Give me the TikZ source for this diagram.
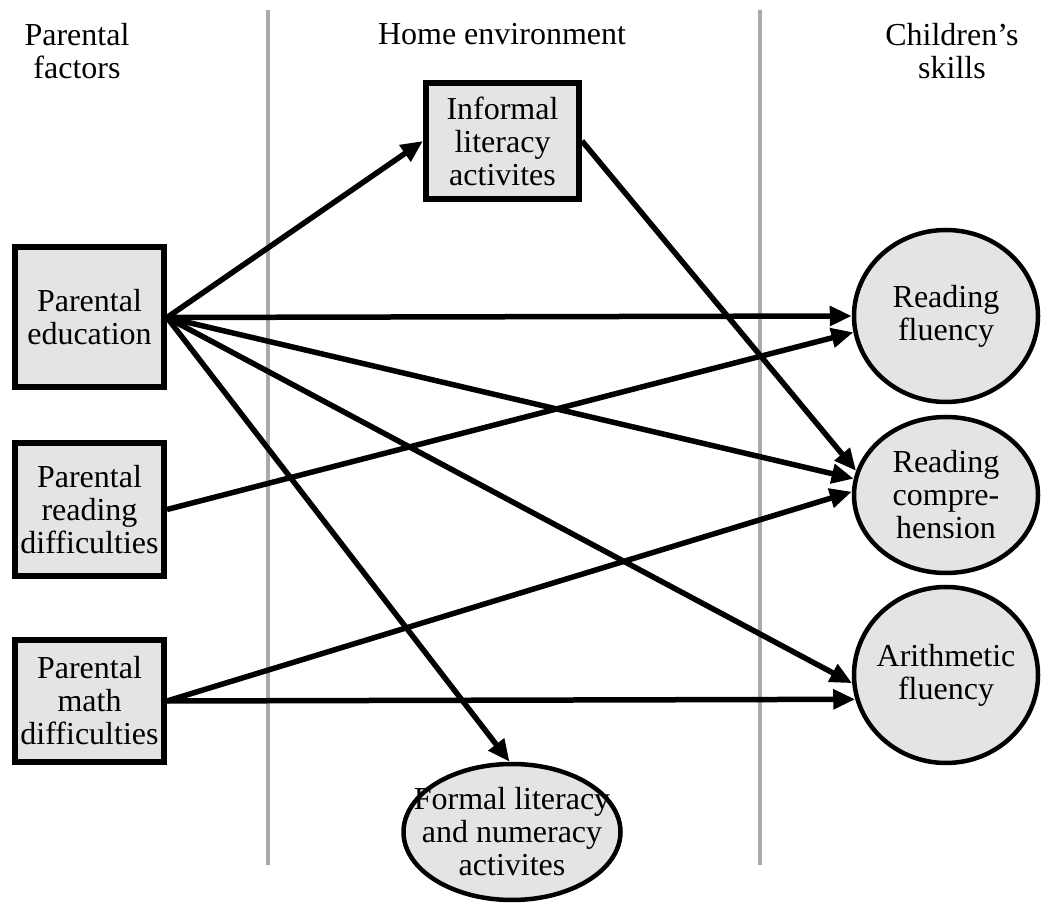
\documentclass[tikz,border=0pt]{standalone}
\usepackage{fontspec}
\setmainfont{Liberation Serif}
\usetikzlibrary{arrows.meta,shapes.geometric}
\definecolor{boxfill}{RGB}{228,228,228}
\definecolor{rulegray}{RGB}{170,170,170}
\begin{document}
\begin{tikzpicture}[x=1pt,y=1pt,
  every node/.style={font=\fontsize{32}{33}\selectfont, align=center, inner sep=0pt},
  factor/.style={draw=black, line width=6pt, fill=boxfill, minimum width=149pt},
  skill/.style={ellipse, draw=black, line width=4.5pt, fill=boxfill,
                inner xsep=-40pt, inner ysep=-15pt},
  link/.style={line width=5.5pt, -{Triangle[length=22pt,width=19pt]}},
  divider/.style={draw=rulegray, line width=4.5pt}
]
\useasboundingbox (0,0) rectangle (1041,904);

% column dividers
\draw[divider] (268,894) -- (268,39);
\draw[divider] (760,894) -- (760,39);

% column headings
\node (hpf) at (77,853) {Parental\\factors};
\node[anchor=base] (hhe) at (502,859) {Home environment};
\node (hcs) at (952,853) {Children’s\\skills};

% parental factors
\node[factor, minimum height=140pt] (pe) at (89.5,586.5) {Parental\\education};
\node[factor, minimum height=133pt] (rd) at (89.5,394.5) {Parental\\reading\\difficulties};
\node[factor, minimum height=122pt] (pm) at (89.5,203) {Parental\\math\\difficulties};

% home environment
\node[factor, minimum width=153pt, minimum height=116pt] (inf) at (502.5,763) {Informal\\literacy\\activites};
\node[skill, minimum width=217pt, minimum height=136pt] (fo) at (512,72) {Formal literacy\\and numeracy\\activites};

% children's skills
\node[skill, minimum width=184pt, minimum height=172pt] (rf) at (946,588) {Reading\\fluency};
\node[skill, minimum width=184pt, minimum height=156pt] (rc) at (946,409) {Reading\\compre-\\hension};
\node[skill, minimum width=184pt, minimum height=176pt] (af) at (946,229) {Arithmetic\\fluency};

% paths
\draw[link] (pe.east) -- (inf.west);
\draw[link] (pe.east) -- (rf.west);
\draw[link] (pe.east) -- (rc.170);
\draw[link] (pe.east) -- (af.185);
\draw[link] (pe.east) -- (fo.92);
\draw[link] (inf.east) -- (rc.165);
\draw[link] (rd.east) -- (rf.190);
\draw[link] (pm.east) -- (rc.178);
\draw[link] (pm.east) -- (af.195);
\end{tikzpicture}
\end{document}
